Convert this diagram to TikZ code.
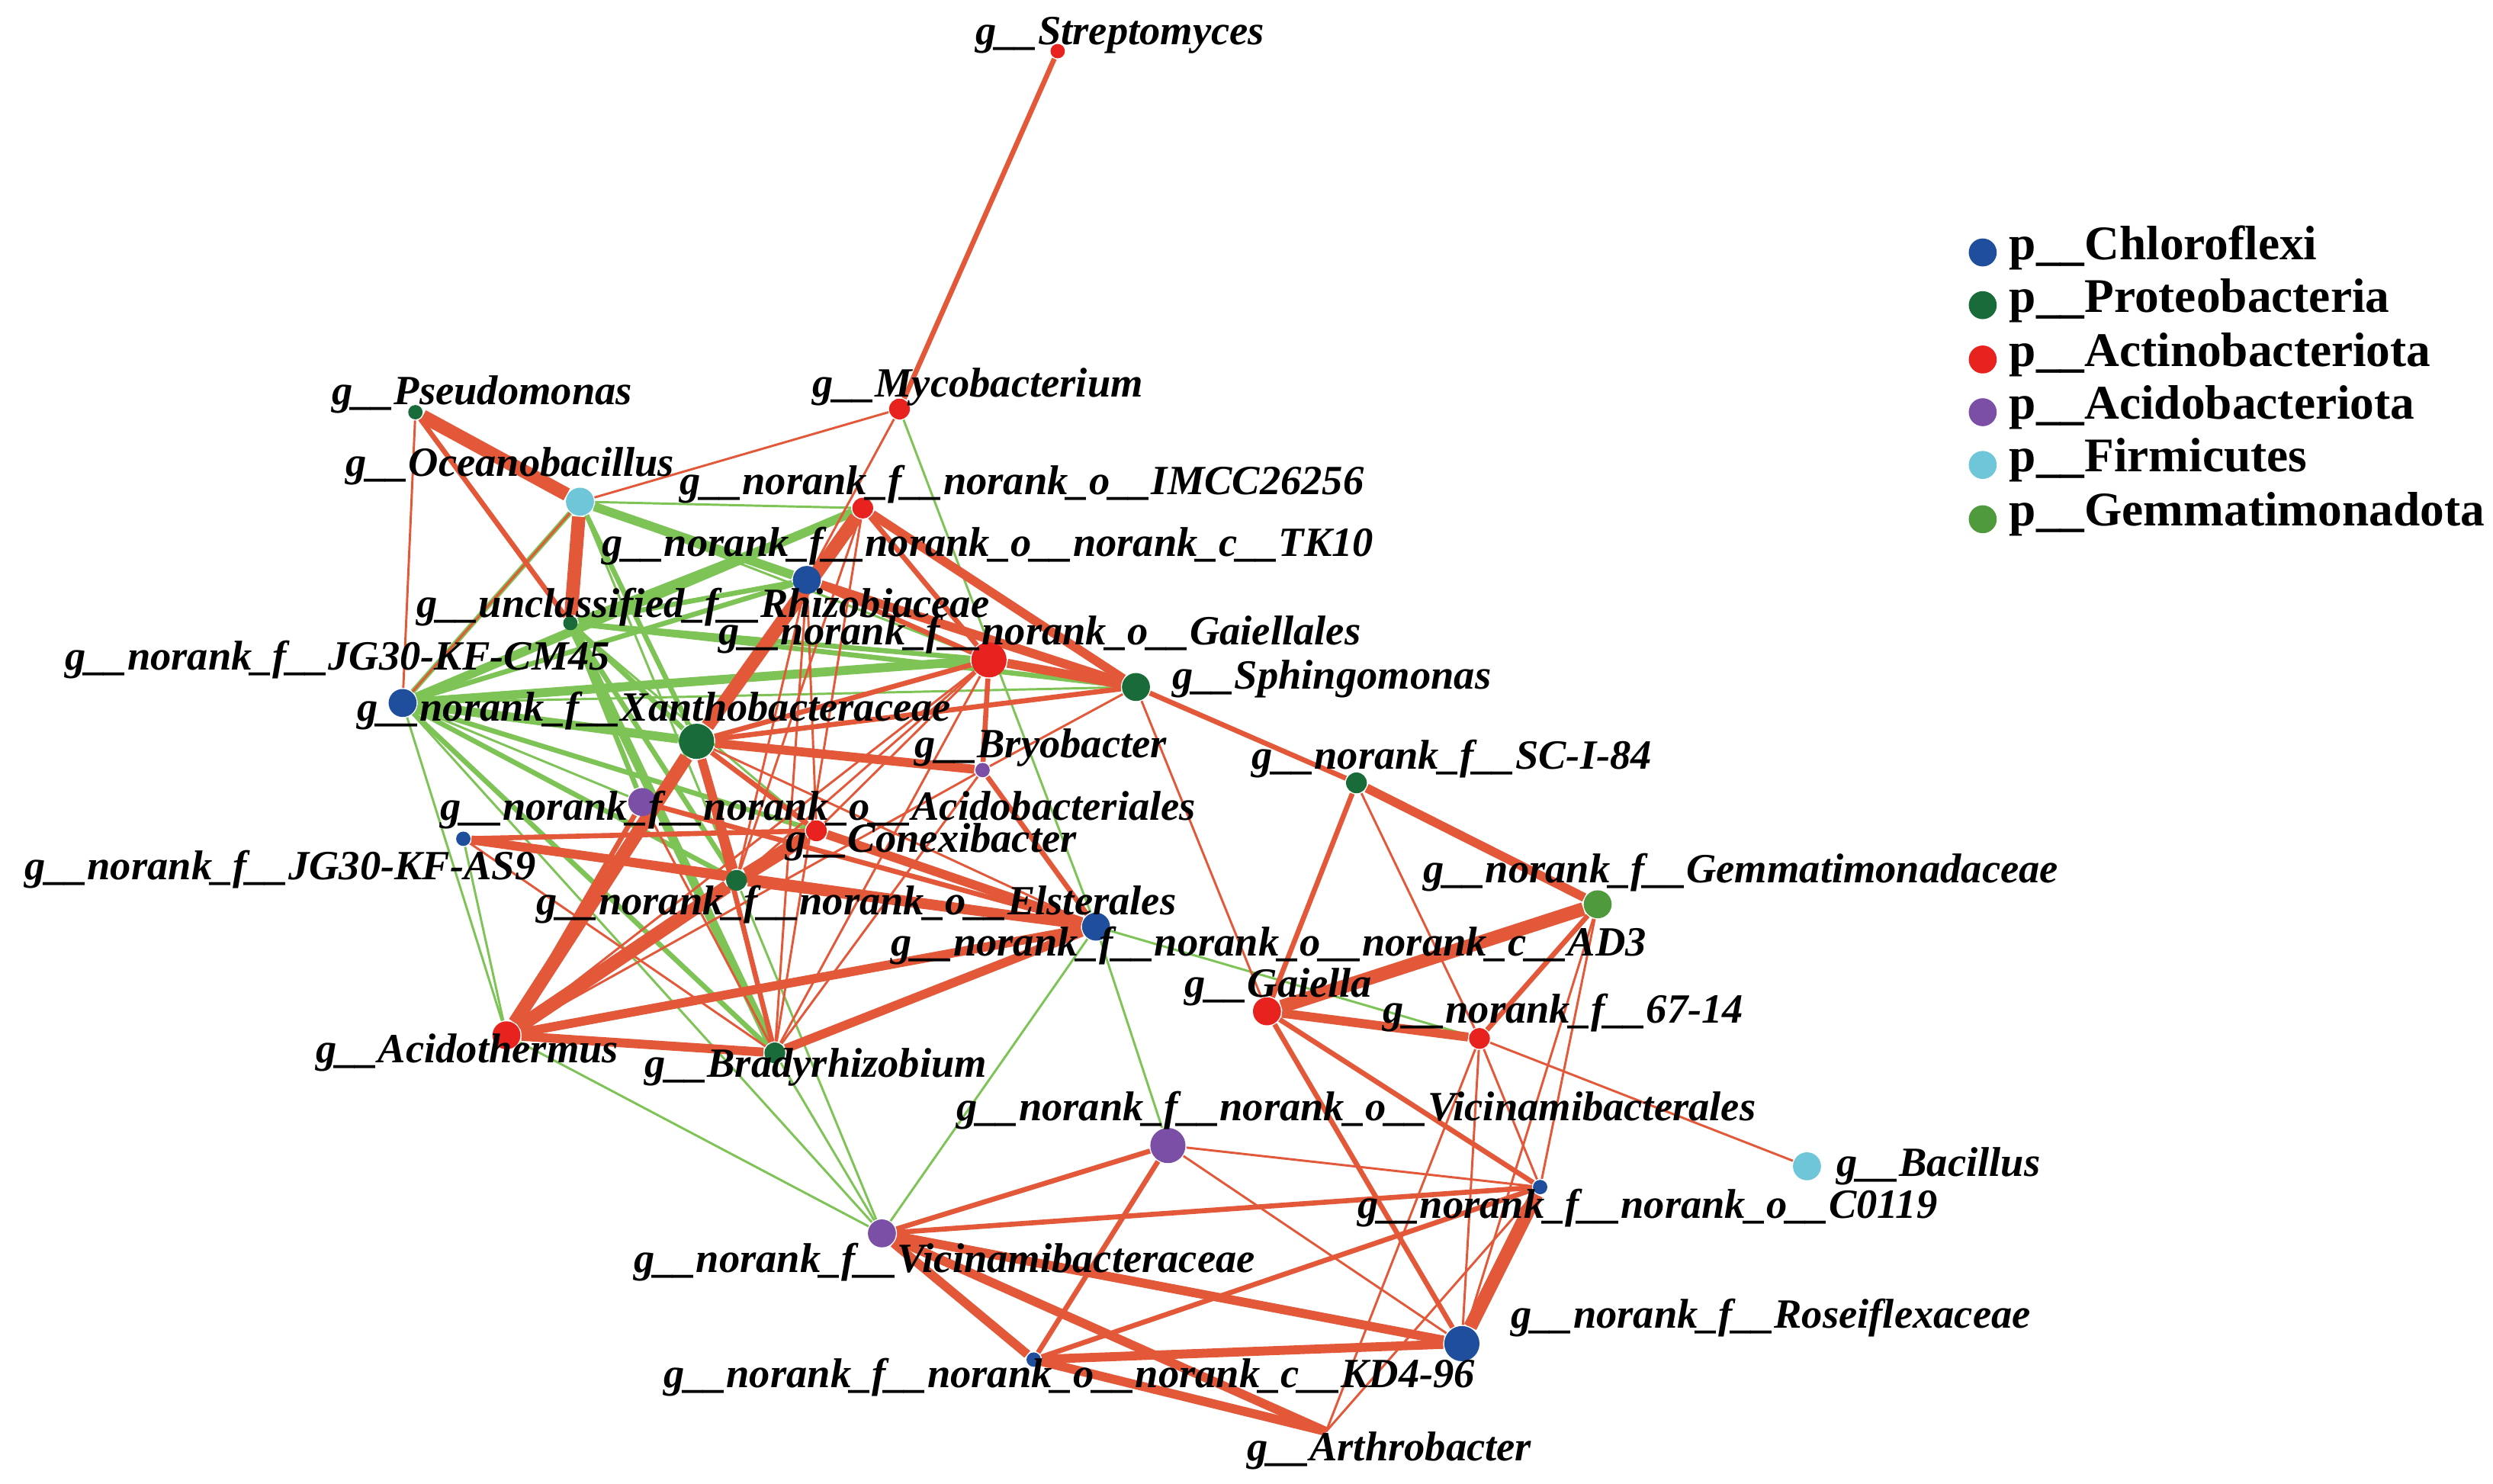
\documentclass[tikz,border=0pt]{standalone}
\usepackage{fontspec}
\setmainfont{Liberation Serif}
\usetikzlibrary{backgrounds}
\definecolor{cB}{HTML}{1F4E9C}
\definecolor{cP}{HTML}{1A6B3A}
\definecolor{cA}{HTML}{E8221E}
\definecolor{cC}{HTML}{7B4FA6}
\definecolor{cF}{HTML}{6EC6D8}
\definecolor{cG}{HTML}{4E9A3C}
\definecolor{eR}{HTML}{E4583A}
\definecolor{eG}{HTML}{7DC356}
\begin{document}
\begin{tikzpicture}[x=0.01cm,y=-0.01cm,
 dot/.style={circle,draw=none,inner sep=0pt},
 nb/.style={dot,minimum width=0.2cm,minimum height=0.22cm},
 nm/.style={dot,minimum width=0.16cm,minimum height=0.175cm},
 ns/.style={dot,minimum width=0.12cm,minimum height=0.13cm},
 nt/.style={dot,minimum width=0.08cm,minimum height=0.09cm},
 lab/.style={anchor=west,inner sep=0pt,font=\fontsize{7.4}{8}\selectfont\bfseries\itshape},
 leg/.style={anchor=west,inner sep=0pt,font=\fontsize{8.6}{10}\selectfont\bfseries},
 r1/.style={eR,line width=0.4pt}, r2/.style={eR,line width=0.9pt},
 r3/.style={eR,line width=1.6pt}, r4/.style={eR,line width=2.4pt},
 g1/.style={eG,line width=0.4pt}, g2/.style={eG,line width=0.9pt},
 g3/.style={eG,line width=1.6pt}]
\useasboundingbox (0,0) rectangle (1560.4,928.4);
% nodes
\node[nt,fill=cA] (strep) at (662,32) {};
\node[ns,fill=cA] (myco) at (563,256) {};
\node[nt,fill=cP] (pseu) at (260,258) {};
\node[nm,fill=cF] (ocea) at (363,314) {};
\node[ns,fill=cA] (imcc) at (540,318) {};
\node[nm,fill=cB] (tk10) at (505,363) {};
\node[nt,fill=cP] (rhiz) at (357,390) {};
\node[nb,fill=cA] (gaie) at (619,413) {};
\node[nm,fill=cP] (sphi) at (711,430) {};
\node[nm,fill=cB] (cm45) at (252,440) {};
\node[nb,fill=cP] (xant) at (436,464) {};
\node[nt,fill=cC] (bryo) at (615,482) {};
\node[ns,fill=cP] (sci) at (849,490) {};
\node[nm,fill=cC] (acbt) at (402,502) {};
\node[nt,fill=cB] (as9) at (290,525) {};
\node[ns,fill=cA] (conx) at (511,520) {};
\node[ns,fill=cP] (elst) at (461,551) {};
\node[nm,fill=cG] (gemm) at (1000,566) {};
\node[nm,fill=cB] (ad3) at (686,580) {};
\node[nm,fill=cA] (gaiella) at (793,633) {};
\node[ns,fill=cA] (n67) at (926,650) {};
\node[nm,fill=cA] (acth) at (317,648) {};
\node[ns,fill=cP] (brad) at (485,659) {};
\node[nb,fill=cC] (vcls) at (731,717) {};
\node[nm,fill=cF] (baci) at (1131,730) {};
\node[nt,fill=cB] (c0119) at (964,743) {};
\node[nm,fill=cC] (vcae) at (552,772) {};
\node[nb,fill=cB] (rose) at (915,841) {};
\node[nt,fill=cB] (kd4) at (647,851) {};
\coordinate (arth) at (830,896);
% edges
\begin{scope}[on background layer]
\foreach \a/\b in {ocea/rhiz,ocea/cm45,tk10/cm45,imcc/rhiz,tk10/rhiz,rhiz/gaie,rhiz/sphi,rhiz/xant,rhiz/elst,cm45/elst,cm45/brad,cm45/conx,rhiz/acbt,ocea/tk10,ocea/xant}
  \draw[g2] (\a)--(\b);
\foreach \a/\b in {imcc/cm45,cm45/xant,rhiz/brad,cm45/gaie,tk10/ocea}
  \draw[g3] (\a)--(\b);
\foreach \a/\b in {ocea/imcc,myco/ad3,cm45/acth,cm45/vcae,acth/vcae,brad/vcae,ad3/vcae,ad3/vcls,ad3/n67,cm45/sphi,elst/vcae,ocea/elst,ocea/gaie,as9/acth,rhiz/conx,cm45/acbt}
  \draw[g1] (\a)--(\b);
\foreach \a/\b in {myco/ocea,myco/tk10,pseu/cm45,ocea/cm45,tk10/brad,tk10/conx,tk10/elst,gaie/brad,gaie/conx,gaie/acth,sphi/gaiella,sphi/bryo,sci/n67,gemm/c0119,gemm/rose,n67/baci,n67/rose,n67/c0119,n67/arth,vcls/c0119,vcls/rose,c0119/arth,imcc/brad,imcc/elst,bryo/acth,bryo/brad,as9/brad,acbt/brad,xant/ad3,gaie/elst}
  \draw[r1] (\a)--(\b);
\foreach \a/\b in {strep/myco,pseu/rhiz,imcc/gaie,tk10/gaie,sphi/sci,gaiella/c0119,gaiella/rose,vcls/vcae,vcls/kd4,vcae/c0119,kd4/c0119,acth/conx,acth/acbt,as9/conx,as9/elst,xant/conx,ad3/conx,ad3/bryo,xant/gaie,sphi/xant,xant/brad,acbt/ad3,gaie/bryo,sci/gaiella,gemm/n67}
  \draw[r2] (\a)--(\b);
\foreach \a/\b in {imcc/sphi,tk10/sphi,gaie/sphi,xant/bryo,acth/elst,acth/ad3,brad/ad3,acth/brad,sci/gemm,vcae/rose,vcae/kd4,vcae/arth,kd4/rose,kd4/arth,conx/ad3,elst/ad3,as9/ad3,xant/elst,gaiella/n67}
  \draw[r3] (\a)--(\b);
\foreach \a/\b in {imcc/xant,xant/acth,conx/elst,elst/acth,gemm/gaiella,c0119/rose,pseu/ocea,ocea/rhiz}
  \draw[r4] (\a)--(\b);
\end{scope}
% labels
\node[lab] (l1) at (610,22) {g\_\_Streptomyces};
\node[lab] (l2) at (508,242) {g\_\_Mycobacterium};
\node[lab] (l3) at (207,247) {g\_\_Pseudomonas};
\node[lab] (l4) at (216,292) {g\_\_Oceanobacillus};
\node[lab] (l5) at (425,303) {g\_\_norank\_f\_\_norank\_o\_\_IMCC26256};
\node[lab] (l6) at (376,342) {g\_\_norank\_f\_\_norank\_o\_\_norank\_c\_\_TK10};
\node[lab] (l7) at (260,380) {g\_\_unclassified\_f\_\_Rhizobiaceae};
\node[lab] (l8) at (449,397) {g\_\_norank\_f\_\_norank\_o\_\_Gaiellales};
\node[lab] (l9) at (40,413) {g\_\_norank\_f\_\_JG30-KF-CM45};
\node[lab] (l10) at (733,425) {g\_\_Sphingomonas};
\node[lab] (l11) at (223,445) {g\_\_norank\_f\_\_Xanthobacteraceae};
\node[lab] (l12) at (572,468) {g\_\_Bryobacter};
\node[lab] (l13) at (783,475) {g\_\_norank\_f\_\_SC-I-84};
\node[lab] (l14) at (275,507) {g\_\_norank\_f\_\_norank\_o\_\_Acidobacteriales};
\node[lab] (l15) at (491,527) {g\_\_Conexibacter};
\node[lab] (l16) at (15,544) {g\_\_norank\_f\_\_JG30-KF-AS9};
\node[lab] (l17) at (890,546) {g\_\_norank\_f\_\_Gemmatimonadaceae};
\node[lab] (l18) at (335,566) {g\_\_norank\_f\_\_norank\_o\_\_Elsterales};
\node[lab] (l19) at (557,592) {g\_\_norank\_f\_\_norank\_o\_\_norank\_c\_\_AD3};
\node[lab] (l20) at (741,618) {g\_\_Gaiella};
\node[lab] (l21) at (865,634) {g\_\_norank\_f\_\_67-14};
\node[lab] (l22) at (197,659) {g\_\_Acidothermus};
\node[lab] (l23) at (403,668) {g\_\_Bradyrhizobium};
\node[lab] (l24) at (598,695) {g\_\_norank\_f\_\_norank\_o\_\_Vicinamibacterales};
\node[lab] (l25) at (1149,730) {g\_\_Bacillus};
\node[lab] (l26) at (849,756) {g\_\_norank\_f\_\_norank\_o\_\_C0119};
\node[lab] (l27) at (396,790) {g\_\_norank\_f\_\_Vicinamibacteraceae};
\node[lab] (l28) at (945,825) {g\_\_norank\_f\_\_Roseiflexaceae};
\node[lab] (l29) at (415,862) {g\_\_norank\_f\_\_norank\_o\_\_norank\_c\_\_KD4-96};
\node[lab] (l30) at (780,908) {g\_\_Arthrobacter};
% legend
\foreach \c/\t/\y [count=\i] in {cB/Chloroflexi/155,cP/Proteobacteria/188,cA/Actinobacteriota/222,cC/Acidobacteriota/255,cF/Firmicutes/288,cG/Gemmatimonadota/322}{
  \node[nm,fill=\c] (d\i) at (1241,\y+3) {};
  \node[leg] (t\i) at (1257,\y) {p\_\_\t};
}
\end{tikzpicture}
\end{document}
